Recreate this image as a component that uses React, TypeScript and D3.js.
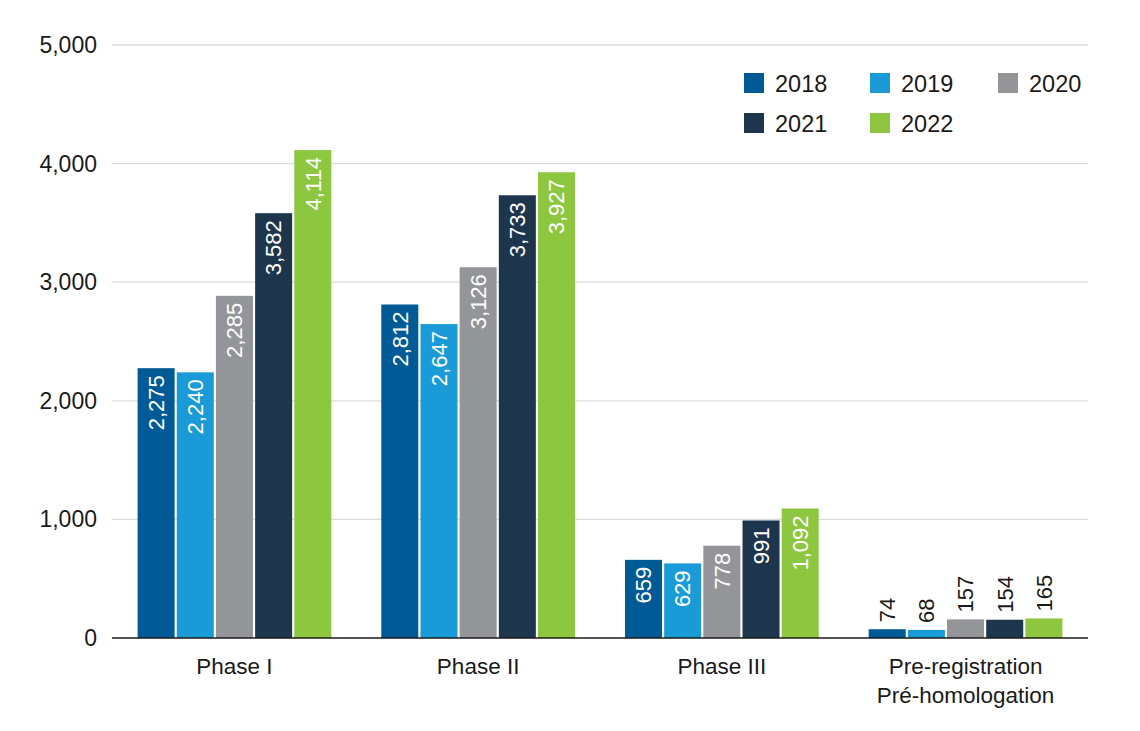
import React from "react";
import * as d3 from "d3";

const categories = ["Phase I", "Phase II", "Phase III", "Pre-registration\nPré-homologation"];
const years = ["2018", "2019", "2020", "2021", "2022"];
const values2018 = [2275, 2812, 659, 74];
const values2019 = [2240, 2647, 629, 68];
// bar heights as drawn in the reference (Phase I 2020 bar is drawn at ~2,885)
const values2020 = [2885, 3126, 778, 157];
const values2021 = [3582, 3733, 991, 154];
const values2022 = [4114, 3927, 1092, 165];
// printed labels as shown in the reference
const labels2018 = ["2,275", "2,812", "659", "74"];
const labels2019 = ["2,240", "2,647", "629", "68"];
const labels2020 = ["2,285", "3,126", "778", "157"];
const labels2021 = ["3,582", "3,733", "991", "154"];
const labels2022 = ["4,114", "3,927", "1,092", "165"];
const yTicks = [0, 1000, 2000, 3000, 4000, 5000];
const colors = ["#005a96", "#1a9ad6", "#939598", "#1e364d", "#8dc63f"];

const series = [values2018, values2019, values2020, values2021, values2022];
const labels = [labels2018, labels2019, labels2020, labels2021, labels2022];

const W = 1140, H = 731;
const left = 112, right = 1088, top = 45, bottom = 638;
const FONT = "'Liberation Sans', Arial, Helvetica, sans-serif";

export default function App() {
  const y = d3.scaleLinear().domain([0, 5000]).range([bottom, top]);
  const x0 = d3.scaleBand<string>().domain(categories).range([left, right]).paddingInner(0.205).paddingOuter(0.105);
  const x1 = d3.scaleBand<string>().domain(years).range([0, x0.bandwidth()]).paddingInner(0.055);
  const fmt = d3.format(",");
  const legend = [
    { y: "2018", cx: 744, cy: 73 },
    { y: "2019", cx: 870, cy: 73 },
    { y: "2020", cx: 998, cy: 73 },
    { y: "2021", cx: 744, cy: 113 },
    { y: "2022", cx: 870, cy: 113 },
  ];
  return (
    <svg width={W} height={H} style={{ position: "absolute", left: 0, top: 0, background: "#fff" }} fontFamily={FONT}>
      {yTicks.map((t) => (
        <g key={t}>
          {t > 0 && <line x1={left} x2={right} y1={y(t)} y2={y(t)} stroke="#dcdcdc" strokeWidth={1.3} />}
          <text x={97} y={y(t) + 8} textAnchor="end" fontSize={23} fill="#1a1a1a">{fmt(t)}</text>
        </g>
      ))}
      {categories.map((c, ci) =>
        series.map((vals, si) => {
          const v = vals[ci];
          const bx = (x0(c) as number) + (x1(years[si]) as number);
          const bw = x1.bandwidth();
          const by = y(v);
          const h = bottom - by;
          const cx = bx + bw / 2;
          const inside = h > 60;
          return (
            <g key={c + si}>
              <rect x={bx} y={by} width={bw} height={h} fill={colors[si]} />
              {inside ? (
                <text transform={`translate(${cx + 7.8},${by + 7}) rotate(-90)`} textAnchor="end" fontSize={22} fill="#fff">{labels[si][ci]}</text>
              ) : (
                <text transform={`translate(${cx + 7.8},${by - 7}) rotate(-90)`} textAnchor="start" fontSize={22} fill="#1a1a1a">{labels[si][ci]}</text>
              )}
            </g>
          );
        })
      )}
      <line x1={left} x2={right} y1={bottom} y2={bottom} stroke="#1a1a1a" strokeWidth={1.5} />
      {categories.map((c) => {
        const cx = (x0(c) as number) + x0.bandwidth() / 2;
        return c.split("\n").map((line, i) => (
          <text key={c + i} x={cx} y={674 + i * 28.5} textAnchor="middle" fontSize={22.5} fill="#1a1a1a">{line}</text>
        ));
      })}
      {legend.map((l, i) => (
        <g key={l.y}>
          <rect x={l.cx} y={l.cy} width={20} height={20} fill={colors[i]} />
          <text x={l.cx + 31} y={l.cy + 19} fontSize={23.5} fill="#1a1a1a">{l.y}</text>
        </g>
      ))}
    </svg>
  );
}
